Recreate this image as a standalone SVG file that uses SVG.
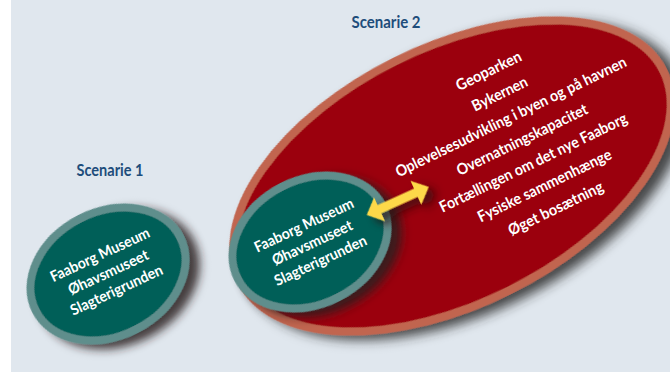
<svg xmlns="http://www.w3.org/2000/svg" width="670" height="376" viewBox="0 0 670 376">
  <defs>
    <filter id="shBig" x="-20%" y="-20%" width="140%" height="140%">
      <feDropShadow dx="8" dy="9" stdDeviation="6" flood-color="#2a2a2a" flood-opacity="0.85"/>
    </filter>
    <filter id="shTeal" x="-30%" y="-30%" width="160%" height="160%">
      <feDropShadow dx="7" dy="9" stdDeviation="5" flood-color="#2a1a1a" flood-opacity="0.85"/>
    </filter>
    <filter id="shArrow" x="-40%" y="-60%" width="180%" height="220%">
      <feDropShadow dx="5" dy="7" stdDeviation="5" flood-color="#2a0a0a" flood-opacity="0.8"/>
    </filter>
  </defs>
  <style>
    .title { font-family: Lato, "Liberation Sans", sans-serif; font-weight: bold; font-size: 17px; fill: #1e4d7b; text-anchor: middle; }
    .lbl { font-family: Lato, "Liberation Sans", sans-serif; font-weight: bold; fill: #ffffff; text-anchor: middle; }
    .teal { fill: #005e58; stroke: #5f8e8c; stroke-width: 8; }
    .red { fill: #9b0610; stroke: #c1654f; stroke-width: 8; }
    .arrow { fill: #fdd94a; }
  </style>
  <rect x="0" y="0" width="670" height="376" fill="#ffffff"/>
  <rect x="11" y="0" width="659" height="372" fill="#e0e7ee"/>

  <g id="scenario1-title">
    <text class="title" x="110" y="176" textLength="67" lengthAdjust="spacingAndGlyphs">Scenarie 1</text>
  </g>

  <g id="scenario1-node">
    <ellipse class="teal" cx="108" cy="274" rx="81" ry="62" transform="rotate(-27 108 274)" filter="url(#shTeal)"/>
    <g transform="translate(108 272) rotate(-25)">
      <text class="lbl" font-size="15" x="0" y="-14" textLength="108" lengthAdjust="spacingAndGlyphs">Faaborg Museum</text>
      <text class="lbl" font-size="15" x="0" y="5.5" textLength="87" lengthAdjust="spacingAndGlyphs">Øhavsmuseet</text>
      <text class="lbl" font-size="15" x="0" y="25" textLength="100" lengthAdjust="spacingAndGlyphs">Slagterigrunden</text>
    </g>
  </g>

  <g id="scenario2-title">
    <text class="title" x="386" y="28" textLength="69" lengthAdjust="spacingAndGlyphs">Scenarie 2</text>
  </g>

  <g id="scenario2-region">
    <ellipse class="red" cx="452" cy="176" rx="236" ry="128" transform="rotate(-26.5 452 176)" filter="url(#shBig)"/>
    <g transform="translate(522 139.5) rotate(-26)">
      <text class="lbl" font-size="15.5" x="0" y="-71" textLength="71" lengthAdjust="spacingAndGlyphs">Geoparken</text>
      <text class="lbl" font-size="15.5" x="0" y="-45.5" textLength="60" lengthAdjust="spacingAndGlyphs">Bykernen</text>
      <text class="lbl" font-size="15.5" x="0" y="-20" textLength="255" lengthAdjust="spacingAndGlyphs">Oplevelsesudvikling i byen og på havnen</text>
      <text class="lbl" font-size="15.5" x="0" y="5.5" textLength="144" lengthAdjust="spacingAndGlyphs">Overnatningskapacitet</text>
      <text class="lbl" font-size="15.5" x="0" y="31" textLength="207" lengthAdjust="spacingAndGlyphs">Fortællingen om det nye Faaborg</text>
      <text class="lbl" font-size="15.5" x="0" y="56.5" textLength="147" lengthAdjust="spacingAndGlyphs">Fysiske sammenhænge</text>
      <text class="lbl" font-size="15.5" x="0" y="82" textLength="104" lengthAdjust="spacingAndGlyphs">Øget bosætning</text>
    </g>
  </g>

  <g id="scenario2-node">
    <ellipse class="teal" cx="310" cy="242" rx="81" ry="62" transform="rotate(-27 310 242)" filter="url(#shTeal)"/>
    <g transform="translate(312 242.5) rotate(-25)">
      <text class="lbl" font-size="15" x="0" y="-14" textLength="108" lengthAdjust="spacingAndGlyphs">Faaborg Museum</text>
      <text class="lbl" font-size="15" x="0" y="5.5" textLength="87" lengthAdjust="spacingAndGlyphs">Øhavsmuseet</text>
      <text class="lbl" font-size="15" x="0" y="25" textLength="100" lengthAdjust="spacingAndGlyphs">Slagterigrunden</text>
    </g>
  </g>

  <g id="connectors">
    <path class="arrow" filter="url(#shArrow)" transform="translate(366.7 215) rotate(-24.4)" d="M0,0 L14,-13 L14,-4.5 L54,-4.5 L54,-13 L68,0 L54,13 L54,4.5 L14,4.5 L14,13 Z"/>
  </g>
</svg>
